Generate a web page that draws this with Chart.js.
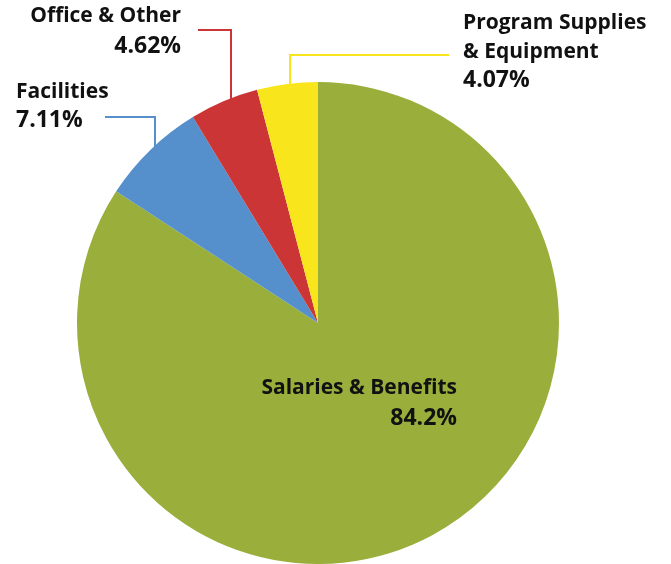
<!DOCTYPE html>
<html>
<head>
<meta charset="utf-8">
<script src="https://cdn.jsdelivr.net/npm/chart.js@4"></script>
<style>
  html, body { margin: 0; padding: 0; background: #fff; }
  #wrap { width: 671px; height: 564px; position: relative; }
</style>
</head>
<body>
<div id="wrap"><canvas id="pie"></canvas></div>
<script>
// Data
const categories = ["Salaries & Benefits", "Facilities", "Office & Other", "Program Supplies & Equipment"];
const shares = [84.2, 7.11, 4.62, 4.07];
const shareLabels = ["84.2%", "7.11%", "4.62%", "4.07%"];
const sliceColors = ["#9AAE3C", "#5590CC", "#CC3535", "#F9E51B"];

// label layout: name lines + percent line, anchor, alignment, optional elbow leader
const labelLayout = [
    { lines: ["Salaries & Benefits"], x: 457, y: 394, align: "right", gap: 31 },
    { lines: ["Facilities"], x: 16, y: 98, align: "left", gap: 29, leader: { fromX: 105, y: 117, elbowX: 155 } },
    { lines: ["Office & Other"], x: 181, y: 22, align: "right", gap: 31, leader: { fromX: 198, y: 30, elbowX: 231 } },
    { lines: ["Program Supplies", "& Equipment"], x: 463, y: 29, align: "left", gap: 29, leader: { fromX: 449, y: 55, elbowX: 290 } }
];

const pieLabels = {
    id: 'pieLabels',
    afterDatasetsDraw(chart) {
        const ctx = chart.ctx;
        const meta = chart.getDatasetMeta(0);
        ctx.save();
        labelLayout.forEach((lab, i) => {
            const arc = meta.data[i];
            if (lab.leader) {
                // drop the leader down to the edge of its slice
                const dx = lab.leader.elbowX - arc.x;
                const r = arc.outerRadius;
                const endY = arc.y - Math.sqrt(Math.max(r * r - dx * dx, 0)) + 3;
                ctx.strokeStyle = sliceColors[i];
                ctx.lineWidth = 2;
                ctx.beginPath();
                ctx.moveTo(lab.leader.fromX, lab.leader.y);
                ctx.lineTo(lab.leader.elbowX, lab.leader.y);
                ctx.lineTo(lab.leader.elbowX, endY);
                ctx.stroke();
            }
            ctx.fillStyle = "#111";
            ctx.textAlign = lab.align;
            ctx.textBaseline = "alphabetic";
            ctx.font = "bold 21px 'Open Sans'";
            lab.lines.forEach((t, k) => {
                ctx.fillText(t, lab.x, lab.y + k * lab.gap);
            });
            ctx.font = "bold 23px 'Open Sans'";
            ctx.fillText(shareLabels[i], lab.x, lab.y + lab.lines.length * lab.gap);
        });
        ctx.restore();
    }
};

new Chart(document.getElementById('pie'), {
    type: 'pie',
    data: {
        labels: categories,
        datasets: [{
            data: shares,
            backgroundColor: sliceColors,
            borderWidth: 0
        }]
    },
    options: {
        responsive: true,
        maintainAspectRatio: false,
        animation: false,
        layout: { padding: { top: 82, bottom: 0, left: 77, right: 112 } },
        plugins: {
            legend: { display: false },
            tooltip: { enabled: false }
        }
    },
    plugins: [pieLabels]
});
</script>
</body>
</html>
